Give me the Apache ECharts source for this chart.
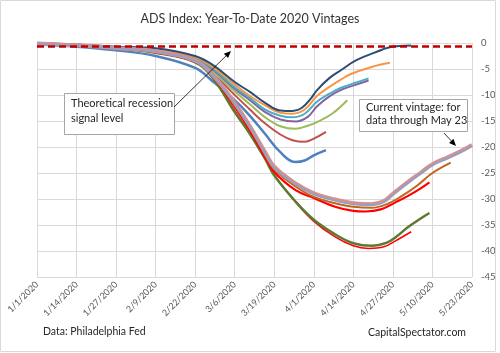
<!DOCTYPE html>
<html>
<head>
<meta charset="utf-8">
<script src="https://cdn.jsdelivr.net/npm/echarts@6/dist/echarts.min.js"></script>
<style>
html,body{margin:0;padding:0;background:#fff;}
#chart{width:500px;height:353px;}
</style>
</head>
<body>
<div id="chart"></div>
<script>
// x values are days since 1/1/2020
var xLabels = ['1/1/2020','1/14/2020','1/27/2020','2/9/2020','2/22/2020','3/6/2020','3/19/2020','4/1/2020','4/14/2020','4/27/2020','5/10/2020','5/23/2020'];
var signalLevel = -0.7;

// older vintages (upper group)
var vBlue = [[0,-0.3],[13,-0.7],[26,-1.4],[39,-2.5],[52,-4.8],[58,-7.5],[65,-11],[70,-14],[75,-17.5],[80,-21],[85,-22.9],[88,-22.6],[91,-21.6],[95,-20.6]];
var vRedBrown = [[0,-0.2],[13,-0.5],[26,-1.0],[39,-1.7],[52,-3.5],[58,-6],[65,-10],[70,-12.8],[75,-15.5],[80,-17.6],[84,-18.7],[88,-19],[91,-18.4],[95,-17.1]];
var vGreen = [[0,-0.1],[13,-0.4],[26,-0.9],[39,-1.5],[52,-3.2],[58,-5.5],[65,-9.3],[70,-11.8],[75,-14.3],[80,-16],[85,-16.5],[89,-15.9],[92,-15.2],[97,-13.6],[102,-11]];
var vPurple = [[0,-0.15],[13,-0.4],[26,-0.9],[39,-1.4],[52,-3.0],[58,-5.2],[65,-8.8],[70,-11],[75,-13.3],[80,-14.7],[85,-15.1],[89,-14.2],[92,-12.2],[96,-10.3],[100,-9],[105,-8],[109,-7.2]];
var vTeal = [[0,-0.1],[13,-0.4],[26,-0.85],[39,-1.3],[52,-2.9],[58,-5.0],[65,-8.5],[70,-10.6],[75,-12.8],[80,-14],[84,-14.3],[88,-13.6],[92,-11.3],[96,-9.8],[100,-8.6],[105,-7.6],[109,-6.8]];
var vOrange = [[0,-0.05],[13,-0.35],[26,-0.8],[39,-1.2],[52,-2.7],[58,-4.7],[65,-8],[70,-10.2],[75,-12],[80,-13.4],[84,-13.6],[88,-12.8],[92,-10.2],[96,-8.5],[100,-7],[103,-6],[110,-4.6],[116,-3.8]];
var vNavy = [[0,0],[13,-0.3],[26,-0.7],[39,-1.0],[52,-2.5],[58,-4.3],[65,-7.5],[70,-9.4],[75,-11.5],[80,-13],[84,-13.1],[87,-12.5],[90,-10.7],[92,-9.1],[96,-6.8],[100,-5.2],[105,-3.3],[113,-1.4],[116,-0.8],[123,-0.5]];

// recent vintages (lower group)
var vRedThin = [[0,-0.05],[13,-0.5],[26,-1.0],[39,-1.8],[52,-3.6],[58,-6.8],[65,-13],[70,-17.3],[75,-22],[78,-25.3],[85,-30.6],[91,-34.3],[98,-37.3],[104,-39],[109,-39.5],[114,-39.2],[118,-38],[123,-36.3]];
var vOlive = [[0,0],[13,-0.45],[26,-1.0],[39,-1.9],[52,-3.7],[58,-6.9],[65,-13.3],[70,-17.5],[75,-22.3],[78,-25.5],[85,-30.5],[91,-34],[98,-36.8],[104,-38.5],[110,-39],[115,-38.4],[118,-37.3],[122,-35.4],[126,-33.8],[129,-32.7]];
var vRed = [[0,-0.1],[13,-0.5],[26,-1.0],[39,-1.8],[52,-3.6],[58,-6.6],[65,-12.3],[70,-16.8],[75,-22],[78,-24.8],[85,-28.3],[91,-29.8],[98,-31.5],[104,-32.3],[108,-32.4],[113,-32],[118,-30.6],[122,-29.4],[126,-28],[129,-26.8]];
var vBrown = [[0,-0.05],[13,-0.4],[26,-0.9],[39,-1.6],[52,-3.3],[58,-6.3],[65,-12],[70,-16.3],[75,-21.5],[78,-24.3],[85,-27.6],[91,-29.6],[98,-30.8],[104,-31.5],[110,-31.7],[115,-31],[120,-29.4],[125,-27.4],[130,-25],[136,-23]];
var vCurrent = [[0,-0.1],[13,-0.45],[26,-0.95],[39,-1.6],[52,-3.4],[58,-6.3],[65,-11.5],[70,-16],[75,-21],[78,-23.8],[85,-27],[91,-28.9],[98,-30.1],[104,-30.8],[110,-31],[114,-30.4],[117,-29],[122,-26.7],[126,-25],[130,-23.3],[135,-22],[140,-20.6],[143,-19.6]];
var vLightBlue = [[0,-0.15],[13,-0.5],[26,-1.0],[39,-1.7],[52,-3.5],[58,-6.4],[65,-11.7],[70,-16.2],[75,-21.2],[78,-24],[85,-27.2],[91,-29.1],[98,-30.3],[104,-31],[110,-31.2],[114,-30.6],[117,-29.2],[122,-26.9],[126,-25.2],[130,-23.5],[135,-22.2],[140,-20.8],[143,-19.8]];

var font = 'Lato, "Open Sans", sans-serif';

function line(data, color, width) {
	return {
		type: 'line',
		data: data,
		smooth: 0.4,
		showSymbol: false,
		silent: true,
		lineStyle: { color: color, width: width },
		itemStyle: { color: color }
	};
}

// arrow with a filled head, pixel coords
function arrow(x1, y1, x2, y2) {
	var dx = x2 - x1, dy = y2 - y1;
	var len = Math.sqrt(dx * dx + dy * dy);
	var ux = dx / len, uy = dy / len;
	var bx = x2 - 7 * ux, by = y2 - 7 * uy;
	return [
		{ type: 'line', z: 100, shape: { x1: x1, y1: y1, x2: bx, y2: by }, style: { stroke: '#000', lineWidth: 0.8 } },
		{ type: 'polygon', z: 100, shape: { points: [[x2, y2], [bx + 3 * uy, by - 3 * ux], [bx - 3 * uy, by + 3 * ux]] }, style: { fill: '#000' } }
	];
}

var series = [
	line(vBlue, '#4F81BD', 2.5),
	line(vRedBrown, '#C0504D', 2),
	line(vGreen, '#9BBB59', 2),
	line(vPurple, '#8064A2', 2),
	line(vTeal, '#4BACC6', 2),
	line(vOrange, '#F79646', 2),
	line(vNavy, '#2C4D75', 2),
	line(vRedThin, '#FF0000', 1.5),
	line(vOlive, '#5E7A32', 2.5),
	line(vRed, '#FF0000', 2.2),
	line(vBrown, '#C0651D', 2),
	line(vCurrent, '#D39191', 4),
	line(vLightBlue, '#7EA6D8', 1.3)
];
series[0].markLine = {
	silent: true,
	symbol: 'none',
	label: { show: false },
	lineStyle: { color: '#C00000', type: [7, 4], width: 2.5 },
	data: [{ yAxis: signalLevel }]
};

var chart = echarts.init(document.getElementById('chart'));
var graphics = [
	{ type: 'rect', z: 100, shape: { x: 0.5, y: 0.5, width: 495, height: 351 }, style: { fill: 'none', stroke: '#d9d9d9', lineWidth: 1 } },
	{ type: 'rect', z: 100, shape: { x: 64.5, y: 93.5, width: 110, height: 41 }, style: { fill: '#fff', stroke: '#a6a6a6', lineWidth: 1 } },
	{ type: 'text', z: 101, left: 71, top: 96, style: { text: 'Theoretical recession\nsignal level', font: '11px ' + font, fill: '#262626', lineHeight: 15 } },
	{ type: 'rect', z: 100, shape: { x: 359.5, y: 99.5, width: 108, height: 32 }, style: { fill: '#fff', stroke: '#a6a6a6', lineWidth: 1 } },
	{ type: 'text', z: 101, left: 366, top: 101, style: { text: 'Current vintage: for\ndata through May 23', font: '11px ' + font, fill: '#262626', lineHeight: 13 } },
	{ type: 'text', z: 101, left: 43, top: 326, style: { text: 'Data: Philadelphia Fed', font: '10.5px ' + font, fill: '#262626' } },
	{ type: 'text', z: 101, right: 34, top: 327, style: { text: 'CapitalSpectator.com', font: '10.5px ' + font, fill: '#262626' } }
].concat(arrow(174, 107, 231, 51), arrow(444, 133, 456, 146));

chart.setOption({
	animation: false,
	title: {
		text: 'ADS Index: Year-To-Date 2020 Vintages',
		left: 'center',
		top: 7,
		textStyle: { fontFamily: font, fontSize: 12.5, fontWeight: 'normal', color: '#333' }
	},
	grid: { left: 37, right: 28, top: 43, bottom: 76 },
	xAxis: {
		type: 'value',
		min: 0,
		max: 143,
		interval: 13,
		axisLine: { show: false },
		axisTick: { show: false },
		splitLine: { lineStyle: { color: '#d9d9d9', width: 1 } },
		axisLabel: {
			rotate: 45,
			margin: 6,
			fontFamily: font,
			fontSize: 9,
			color: '#595959',
			formatter: function(v) { return xLabels[Math.round(v / 13)]; }
		}
	},
	yAxis: {
		type: 'value',
		position: 'right',
		min: -45,
		max: 0,
		interval: 5,
		axisLine: { show: false },
		axisTick: { show: false },
		splitLine: { lineStyle: { color: '#d9d9d9', width: 1 } },
		axisLabel: { margin: 9, fontFamily: font, fontSize: 9.5, color: '#595959' }
	},
	series: series,
	graphic: graphics
});
</script>
</body>
</html>
